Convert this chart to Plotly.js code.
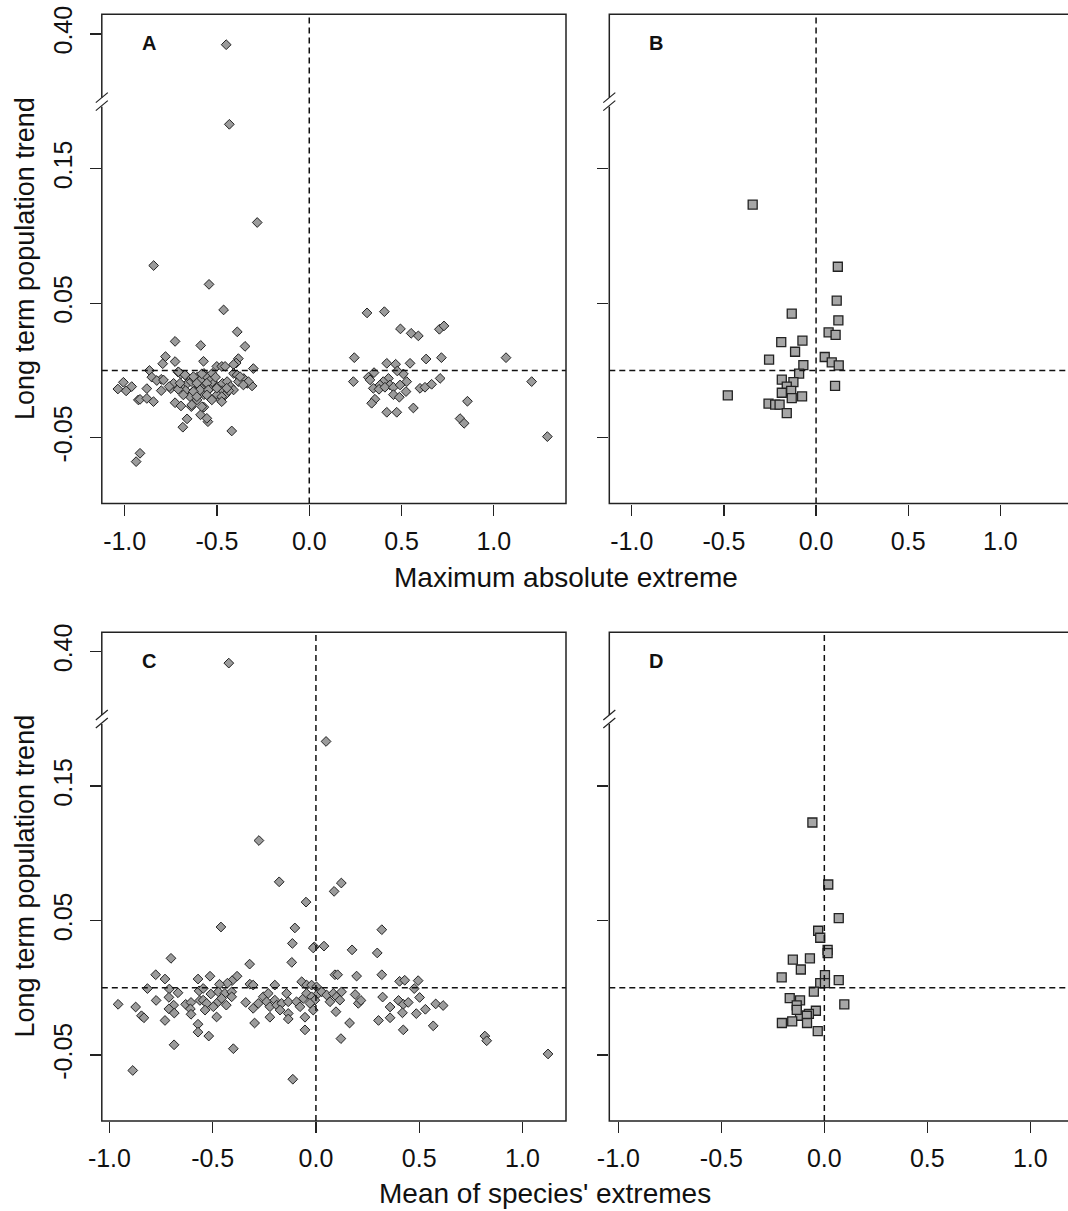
<!DOCTYPE html>
<html>
<head>
<meta charset="utf-8">
<script src="https://cdn.plot.ly/plotly-3.0.1.min.js"></script>
<style>html,body{margin:0;padding:0;background:#fff;}#chart{width:1068px;height:1211px;}</style>
</head>
<body>
<div id="chart"></div>
<script>
// ---------------- DATA ----------------
// Panel A: maximum absolute extreme vs long term population trend (all species)
const xA = [-0.45,-0.433,-0.282,-0.843,-0.543,-0.464,-0.39,-0.727,-0.588,-0.348,-0.779,-0.794,-0.727,-0.573,-0.384,-0.396,-0.41,-0.303,-0.501,-0.474,-0.456,
  -0.866,-0.853,-0.802,-0.826,-1.007,-1.037,-0.992,-0.962,-0.88,-0.802,-0.926,-0.917,-0.88,-0.844,-0.75,-0.71,-0.695,-0.66,-0.727,-0.695,-0.685,-0.662,
  -0.639,-0.608,-0.589,-0.571,-0.549,-0.42,-0.69,-0.66,-0.64,-0.62,-0.608,-0.589,-0.571,-0.553,-0.535,-0.562,-0.589,-0.625,-0.62,-0.535,-0.517,-0.499,
  -0.47,-0.445,-0.427,-0.41,-0.47,-0.499,-0.481,-0.454,-0.436,-0.41,-0.391,-0.355,-0.337,-0.31,-0.384,-0.526,-0.508,-0.67,-0.735,-0.759,-0.71,-0.646,
  -0.571,-0.917,-0.938,-0.709,-0.673,-0.628,-0.582,-0.375,-0.33,-0.79,-0.7,-0.609,-0.555,-0.357,-0.592,-0.628,-0.547,-0.501,-0.447,-0.682,-0.609,-0.555,
  -0.474,-0.474,-0.528,-0.637,-0.582,-0.555,
  0.313,0.407,0.494,0.552,0.591,0.705,0.73,0.244,0.716,1.066,0.633,0.546,0.42,0.468,0.51,0.477,0.351,0.32,0.329,0.239,0.709,1.205,0.429,0.401,0.528,
  0.383,0.437,0.347,0.378,0.41,0.456,0.492,0.524,0.456,0.488,0.6,0.627,0.663,0.356,0.338,0.857,0.564,0.42,0.474,0.817,0.839,1.29];
const yA = [0.392,0.183,0.110,0.078,0.064,0.045,0.0287,0.0216,0.0186,0.0179,0.0103,0.0050,0.0066,0.0068,0.0088,0.0055,0.0044,0.0014,0.0030,0.0030,0.0030,
  0.0000,-0.005,-0.0066,-0.0075,-0.0088,-0.0138,-0.0152,-0.012,-0.0135,-0.015,-0.0219,-0.0215,-0.0208,-0.0232,-0.0135,-0.0013,-0.0026,-0.005,-0.024,-0.0264,-0.0422,-0.036,
  -0.0269,-0.0219,-0.033,-0.0273,-0.0381,-0.045,-0.011,-0.0096,-0.0083,-0.0066,-0.005,-0.0071,-0.0022,-0.005,-0.0071,-0.0107,-0.013,-0.015,-0.018,-0.013,-0.0096,-0.012,
  -0.0096,-0.0083,-0.012,-0.0145,-0.015,-0.018,-0.0219,-0.018,-0.015,-0.0022,-0.0034,-0.006,-0.0096,-0.0115,-0.0083,-0.0022,-0.005,-0.015,-0.0096,-0.012,-0.014,-0.0195,
  -0.018,-0.0616,-0.0678,-0.001,-0.0033,-0.0046,-0.0025,-0.0046,-0.0083,-0.0071,-0.0095,-0.0095,-0.0095,-0.0108,-0.0145,-0.0157,-0.0145,-0.0132,-0.0132,-0.0182,-0.0195,-0.0182,
  -0.0195,-0.0232,-0.0219,-0.0256,-0.0269,-0.0356,
  0.0428,0.0437,0.0309,0.0276,0.0257,0.0306,0.0331,0.0095,0.0095,0.0095,0.0085,0.0053,0.0053,0.0046,-0.0026,-0.0004,-0.0016,-0.0051,-0.007,-0.0083,-0.0059,-0.0083,-0.0059,-0.0083,-0.0083,
  -0.0108,-0.0108,-0.0133,-0.014,-0.0125,-0.0125,-0.0108,-0.0157,-0.018,-0.0199,-0.0133,-0.0125,-0.0103,-0.0214,-0.0244,-0.0229,-0.0279,-0.0311,-0.0311,-0.0358,-0.0393,-0.0492];

// Panel B: maximum absolute extreme (squares subset)
const xB = [-0.344,0.118,0.112,0.121,-0.132,0.068,0.106,-0.189,-0.074,-0.114,-0.255,0.047,0.085,0.123,-0.069,-0.092,-0.186,-0.123,-0.159,0.103,
  -0.186,-0.135,-0.479,-0.076,-0.132,-0.258,-0.222,-0.198,-0.159];
const yB = [0.1233,0.0771,0.0519,0.0373,0.0423,0.0283,0.0264,0.0211,0.0222,0.0139,0.0081,0.0100,0.0060,0.0038,0.0039,-0.0023,-0.0068,-0.0087,-0.0121,-0.0115,
  -0.0166,-0.0152,-0.0185,-0.0193,-0.0206,-0.0246,-0.0254,-0.0254,-0.0318];

// Panel C: mean of species' extremes (all species)
const xC = [-0.422,0.049,-0.276,-0.178,0.123,0.088,-0.048,-0.46,-0.102,0.319,-0.114,-0.008,0.039,-0.013,0.175,0.297,-0.702,-0.321,-0.117,-0.776,-0.513,-0.382,
  -0.571,-0.731,0.092,0.105,0.197,0.319,0.405,0.43,0.495,-0.406,-0.429,-0.467,-0.32,-0.304,-0.199,-0.069,-0.045,-0.021,0.003,-0.816,-0.71,-0.668,-0.566,
  -0.509,-0.546,-0.473,-0.441,-0.408,0.476,0.502,-0.774,-0.712,-0.958,-0.873,-0.689,-0.712,-0.686,-0.845,-0.833,-0.731,-0.631,-0.605,-0.608,-0.605,-0.562,
  -0.546,-0.529,-0.497,-0.537,-0.473,-0.457,-0.408,-0.481,-0.571,-0.571,-0.519,-0.434,-0.4,-0.687,-0.887,-0.34,-0.304,-0.279,-0.255,-0.231,-0.239,-0.223,
  -0.199,-0.19,-0.166,-0.174,-0.142,-0.134,-0.134,-0.094,-0.077,-0.061,-0.045,-0.021,-0.005,-0.029,-0.013,0.011,0.028,0.052,0.068,0.084,0.1,0.116,0.124,
  0.205,0.19,0.218,-0.297,-0.223,-0.134,-0.053,0.097,0.163,-0.053,-0.112,0.121,0.303,0.323,0.359,0.359,0.4,0.423,0.419,0.423,0.447,0.486,0.53,0.568,0.58,
  0.616,0.818,0.827,1.124];
const yC = [0.3915,0.1832,0.1095,0.0788,0.0779,0.0717,0.0637,0.0452,0.0445,0.0432,0.033,0.0304,0.031,0.0296,0.0282,0.0259,0.0219,0.0176,0.0189,0.0097,0.0086,0.0086,
  0.0065,0.0065,0.0097,0.0097,0.0087,0.0097,0.0048,0.0056,0.0053,0.0053,0.0034,0.0026,0.0027,0.002,0.002,0.0045,0.002,0.002,0.0007,-0.0006,-0.0009,-0.0037,-0.0023,
  -0.0046,-0.0005,-0.003,-0.0042,-0.003,-0.0006,-0.0072,-0.0094,-0.0071,-0.0123,-0.0143,-0.0129,-0.0157,-0.0188,-0.0208,-0.0223,-0.0243,-0.0123,-0.0109,-0.0157,-0.0197,-0.0094,
  -0.0092,-0.0116,-0.0141,-0.0166,-0.0104,-0.0079,-0.0067,-0.0217,-0.0271,-0.033,-0.0359,-0.0129,-0.0453,-0.0424,-0.0615,-0.0109,-0.0153,-0.0116,-0.0067,-0.0042,-0.0104,-0.0141,
  -0.0092,-0.0129,-0.0116,-0.0166,-0.0042,-0.0104,-0.0191,-0.0104,-0.0141,-0.0079,-0.0042,-0.0067,-0.0092,-0.0116,-0.0166,-0.0042,-0.003,-0.0054,-0.0104,-0.0042,-0.0067,-0.0092,-0.003,
  -0.0116,-0.005,-0.0094,-0.0262,-0.0219,-0.0232,-0.0219,-0.0178,-0.0262,-0.0313,-0.068,-0.0378,-0.0243,-0.0069,-0.0143,-0.0223,-0.0094,-0.0123,-0.0186,-0.0313,-0.0109,-0.0192,-0.016,-0.0283,-0.012,
  -0.0132,-0.0359,-0.0394,-0.0492];

// Panel D: mean of species' extremes (squares subset)
const xD = [-0.058,0.019,0.07,-0.03,-0.02,0.016,0.016,-0.07,-0.153,-0.114,0.003,-0.207,0.07,-0.02,0.003,-0.051,-0.168,-0.118,-0.134,0.097,
  -0.041,-0.075,-0.118,-0.085,-0.206,-0.156,-0.084,-0.032,-0.134];
const yD = [0.1229,0.0768,0.0518,0.0424,0.0372,0.0282,0.0257,0.0219,0.0209,0.0136,0.0094,0.0077,0.0057,0.0035,0.0035,-0.0029,-0.0077,-0.0094,-0.0131,-0.0123,
  -0.0171,-0.0194,-0.0208,-0.0208,-0.0262,-0.025,-0.0262,-0.0322,-0.0164];

// Tick labels
const xTickVals = [-1.0, -0.5, 0.0, 0.5, 1.0];
const xTickText = ['-1.0', '-0.5', '0.0', '0.5', '1.0'];
const yLowTickVals = [-0.05, 0.05, 0.15];
const yLowTickText = ['-0.05', '0.05', '0.15'];
const yHighTickVals = [0.40];
const yHighTickText = ['0.40'];
const panelLetters = ['A', 'B', 'C', 'D'];
const yTitle = 'Long term population trend';
const xTitleTop = 'Maximum absolute extreme';
const xTitleBottom = "Mean of species' extremes";

// ---------------- LAYOUT GEOMETRY (pixels) ----------------
const W = 1068, H = 1211;
const FONT = '"Liberation Sans", Arial, sans-serif';
const cols = [{l: 101.8, r: 566}, {l: 609.3, r: 1068}];
const rows = [{t: 14.3, b: 103.6, bot: 503.6}, {t: 632.2, b: 721, bot: 1120.9}];
const yLowRange = [-0.099, 0.1984];
const yHighRange = [0.3484, 0.4145];
const xRanges = [[-1.124, 1.391], [-1.122, 1.367], [-1.037, 1.211], [-1.044, 1.183]];
const GAP_SPLIT = 0.3;

const px = v => v / W;
const py = v => 1 - v / H;

const panels = [
  {xs: xA, ys: yA, sym: 'diamond', col: 0, row: 0},
  {xs: xB, ys: yB, sym: 'square', col: 1, row: 0},
  {xs: xC, ys: yC, sym: 'diamond', col: 0, row: 1},
  {xs: xD, ys: yD, sym: 'square', col: 1, row: 1}
];

const data = [];
const layout = {
  width: W, height: H,
  margin: {l: 0, r: 0, t: 0, b: 0},
  paper_bgcolor: '#fff', plot_bgcolor: 'rgba(0,0,0,0)',
  showlegend: false,
  font: {family: FONT, color: '#000'},
  shapes: [], annotations: []
};

const markerStyle = {
  diamond: {symbol: 'diamond', size: 7.5, color: '#9b9b9b', line: {color: '#222', width: 1}},
  square: {symbol: 'square', size: 9, color: '#a6a6a6', line: {color: '#222', width: 1.3}}
};

const TICKFONT = {family: FONT, size: 25, color: '#111'};

panels.forEach((p, i) => {
  const c = cols[p.col], r = rows[p.row];
  const xk = i === 0 ? 'x' : 'x' + (i + 1);
  const yL = 2 * i + 1 === 1 ? 'y' : 'y' + (2 * i + 1);
  const yHk = 'y' + (2 * i + 2);
  const xName = 'xaxis' + (i === 0 ? '' : i + 1);
  const yLName = 'yaxis' + (2 * i + 1 === 1 ? '' : 2 * i + 1);
  const yHName = 'yaxis' + (2 * i + 2);

  const lx = [], ly = [], hx = [], hy = [];
  p.xs.forEach((xv, k) => {
    if (p.ys[k] > GAP_SPLIT) { hx.push(xv); hy.push(p.ys[k]); }
    else { lx.push(xv); ly.push(p.ys[k]); }
  });
  const m = markerStyle[p.sym];
  data.push({type: 'scatter', mode: 'markers', x: lx, y: ly, xaxis: xk, yaxis: yL, marker: m, hoverinfo: 'x+y', cliponaxis: false});
  if (hx.length) data.push({type: 'scatter', mode: 'markers', x: hx, y: hy, xaxis: xk, yaxis: yHk, marker: m, hoverinfo: 'x+y', cliponaxis: false});

  const xDom = [px(c.l), Math.min(1, px(c.r))];
  layout[xName] = {
    domain: xDom, range: xRanges[i], anchor: yL,
    showgrid: false, zeroline: false, showline: false,
    tickmode: 'array', tickvals: xTickVals, ticktext: xTickText,
    ticks: 'outside', ticklen: 11, tickwidth: 1.3, tickcolor: '#222',
    ticklabelstandoff: 4,
    tickfont: TICKFONT
  };
  const showLab = p.col === 0;
  layout[yLName] = {
    domain: [py(r.bot), py(r.b)], range: yLowRange, anchor: xk,
    showgrid: false, zeroline: false, showline: false,
    tickmode: 'array', tickvals: yLowTickVals, ticktext: yLowTickText,
    ticks: 'outside', ticklen: 11, tickwidth: 1.3, tickcolor: '#222',
    tickangle: -90, showticklabels: showLab, ticklabelstandoff: 8,
    tickfont: TICKFONT
  };
  layout[yHName] = {
    domain: [py(r.b), py(r.t)], range: yHighRange, anchor: xk,
    showgrid: false, zeroline: false, showline: false,
    tickmode: 'array', tickvals: yHighTickVals, ticktext: yHighTickText,
    ticks: 'outside', ticklen: 11, tickwidth: 1.3, tickcolor: '#222',
    tickangle: -90, showticklabels: showLab, ticklabelstandoff: 8,
    tickfont: TICKFONT
  };

  const rightPx = p.col === 1 ? c.r + 20 : c.r;
  // dashed reference lines
  layout.shapes.push({type: 'line', xref: xk, yref: 'paper', x0: 0, x1: 0, y0: py(r.bot), y1: py(r.t),
    line: {color: '#111', width: 1.5, dash: '6px,4px'}});
  layout.shapes.push({type: 'line', xref: 'paper', yref: yL, x0: px(c.l), x1: px(rightPx), y0: 0, y1: 0,
    line: {color: '#111', width: 1.5, dash: '6px,4px'}});
  // frame
  layout.shapes.push({type: 'rect', xref: 'paper', yref: 'paper', x0: px(c.l), x1: px(rightPx), y0: py(r.bot), y1: py(r.t),
    line: {color: '#222', width: 1.5}, fillcolor: 'rgba(0,0,0,0)'});
  // axis break
  layout.shapes.push({type: 'line', xref: 'paper', yref: 'paper', x0: px(c.l), x1: px(c.l), y0: py(r.b + 3), y1: py(r.b - 6),
    line: {color: '#fff', width: 4}});
  layout.shapes.push({type: 'line', xref: 'paper', yref: 'paper', x0: px(c.l - 6), x1: px(c.l + 6), y0: py(r.b - 1), y1: py(r.b - 11),
    line: {color: '#222', width: 1.2}});
  layout.shapes.push({type: 'line', xref: 'paper', yref: 'paper', x0: px(c.l - 6), x1: px(c.l + 6), y0: py(r.b + 7), y1: py(r.b - 3),
    line: {color: '#222', width: 1.2}});
  // panel letter
  layout.annotations.push({text: '<b>' + panelLetters[i] + '</b>', xref: 'paper', yref: 'paper',
    x: px(c.l + 47), y: py(r.t + 28.5), xanchor: 'center', yanchor: 'middle', showarrow: false,
    font: {family: FONT, size: 20, color: '#111'}});
});

// axis titles
rows.forEach(r => {
  layout.annotations.push({text: yTitle, xref: 'paper', yref: 'paper', x: px(25), y: py((r.t + r.bot) / 2),
    xanchor: 'center', yanchor: 'middle', textangle: -90, showarrow: false,
    font: {family: FONT, size: 27, color: '#111'}});
});
layout.annotations.push({text: xTitleTop, xref: 'paper', yref: 'paper', x: px(566), y: py(577),
  xanchor: 'center', yanchor: 'middle', showarrow: false, font: {family: FONT, size: 28, color: '#111'}});
layout.annotations.push({text: xTitleBottom, xref: 'paper', yref: 'paper', x: px(545), y: py(1193),
  xanchor: 'center', yanchor: 'middle', showarrow: false, font: {family: FONT, size: 28, color: '#111'}});

Plotly.newPlot('chart', data, layout, {displayModeBar: false, staticPlot: true});
</script>
</body>
</html>
